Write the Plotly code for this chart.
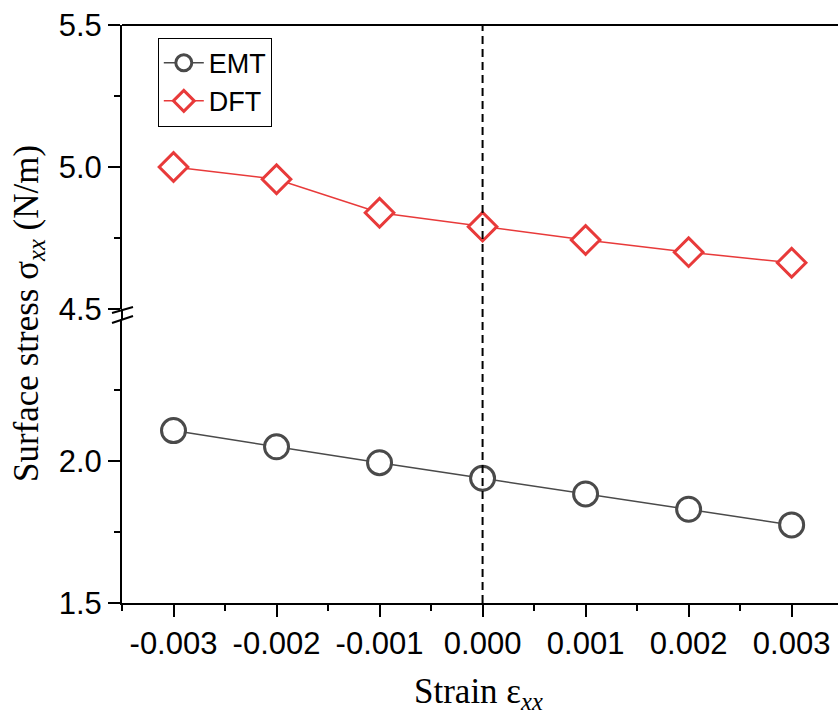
import plotly.graph_objects as go

# ---- data ----
strain = [-0.003, -0.002, -0.001, 0.000, 0.001, 0.002, 0.003]
emt_stress = [2.107, 2.050, 1.994, 1.939, 1.884, 1.830, 1.775]
dft_stress = [5.000, 4.957, 4.839, 4.790, 4.743, 4.700, 4.663]
x_tickvals = [-0.003, -0.002, -0.001, 0.000, 0.001, 0.002, 0.003]
x_ticktext = ["-0.003", "-0.002", "-0.001", "0.000", "0.001", "0.002", "0.003"]
y_low_ticks = [1.5, 2.0]
y_low_text = ["1.5", "2.0"]
y_high_ticks = [4.5, 5.0, 5.5]
y_high_text = ["4.5", "5.0", "5.5"]

GRAY = "#4a4a4a"
RED = "#e83a3a"
TICKFONT = dict(family="Liberation Sans, Arial", size=31, color="black")

fig = go.Figure()
fig.add_trace(go.Scatter(
    x=strain, y=emt_stress, name="EMT", mode="lines+markers", yaxis="y",
    line=dict(color=GRAY, width=1.5),
    marker=dict(symbol="circle", size=24, color="white", line=dict(color=GRAY, width=3)),
))
fig.add_trace(go.Scatter(
    x=strain, y=dft_stress, name="DFT", mode="lines+markers", yaxis="y2",
    line=dict(color=RED, width=1.5),
    marker=dict(symbol="diamond", size=22, color="white", line=dict(color=RED, width=3)),
))

low_top = 284 / 578
high_bot = 294 / 578

fig.update_layout(
    width=838, height=718,
    margin=dict(l=122, r=0, t=25, b=115),
    paper_bgcolor="white", plot_bgcolor="white",
    showlegend=True,
    legend=dict(
        x=0.05, y=0.978, xanchor="left", yanchor="top",
        bordercolor="black", borderwidth=1, bgcolor="white",
        font=dict(family="Liberation Sans, Arial", size=27, color="black"),
        tracegroupgap=0, itemwidth=40,
    ),
    xaxis=dict(
        range=[-0.0035, 0.00345], anchor="y",
        tickvals=x_tickvals, ticktext=x_ticktext,
        ticks="outside", ticklen=12, tickwidth=2, tickcolor="black",
        showline=True, linewidth=2, linecolor="black",
        showgrid=False, zeroline=False, tickfont=TICKFONT,
        minor=dict(dtick=0.0005, tick0=0, ticks="outside", ticklen=6, tickwidth=2, tickcolor="black", showgrid=False),
    ),
    yaxis=dict(
        domain=[0, low_top], range=[1.5, 2.5], anchor="x",
        tickvals=y_low_ticks, ticktext=y_low_text,
        ticks="outside", ticklen=12, tickwidth=2, tickcolor="black",
        showline=True, linewidth=2, linecolor="black",
        showgrid=False, zeroline=False, tickfont=TICKFONT,
        minor=dict(tickvals=[1.75, 2.25], ticks="outside", ticklen=6, tickwidth=2, tickcolor="black", showgrid=False),
    ),
    yaxis2=dict(
        domain=[high_bot, 1], range=[4.5, 5.5], anchor="x",
        tickvals=y_high_ticks, ticktext=y_high_text,
        ticks="outside", ticklen=12, tickwidth=2, tickcolor="black",
        showline=True, linewidth=2, linecolor="black",
        showgrid=False, zeroline=False, tickfont=TICKFONT,
        minor=dict(tickvals=[4.75, 5.25], ticks="outside", ticklen=6, tickwidth=2, tickcolor="black", showgrid=False),
    ),
)

shapes = [
    # dashed zero-strain line
    dict(type="line", xref="x", yref="paper", x0=0, x1=0, y0=0, y1=1,
         line=dict(color="black", width=2, dash="8px,5px"), layer="above"),
    # top frame line
    dict(type="line", xref="paper", yref="paper", x0=0, x1=1, y0=1, y1=1,
         line=dict(color="black", width=2)),
    # left spine through the break
    dict(type="line", xref="paper", yref="paper", x0=0, x1=0, y0=low_top, y1=high_bot,
         line=dict(color="black", width=2)),
    # break marks
    dict(type="line", xref="paper", yref="paper", x0=-10/716, x1=11/716,
         y0=(603-313)/578, y1=(603-307)/578, line=dict(color="black", width=2)),
    dict(type="line", xref="paper", yref="paper", x0=-10/716, x1=11/716,
         y0=(603-323)/578, y1=(603-316)/578, line=dict(color="black", width=2)),
]
fig.update_layout(shapes=shapes)

fig.add_annotation(
    text="Surface stress σ<sub><i>xx</i></sub> (N/m)", textangle=-90,
    xref="paper", yref="paper", x=(28-122)/716, y=0.5,
    xanchor="center", yanchor="middle", showarrow=False,
    font=dict(family="Liberation Serif, Times New Roman", size=35, color="black"),
)
fig.add_annotation(
    text="Strain ε<sub><i>xx</i></sub>",
    xref="paper", yref="paper", x=(478-122)/716, y=-(693-603)/578,
    xanchor="center", yanchor="middle", showarrow=False,
    font=dict(family="Liberation Serif, Times New Roman", size=35, color="black"),
)

fig.write_html("out.html")
